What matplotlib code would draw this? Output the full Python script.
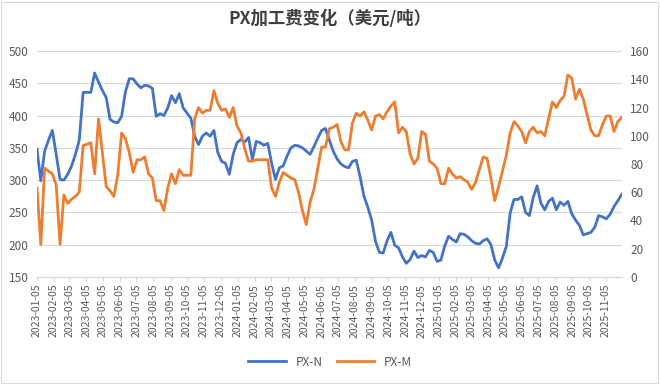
import matplotlib
matplotlib.use("Agg")
import matplotlib.pyplot as plt
import matplotlib.dates as mdates
import pandas as pd
from matplotlib.patches import Rectangle

plt.rcParams['font.family'] = ['Noto Sans CJK SC', 'DejaVu Sans']

# 周度数据，2023-01-05 起
dates = pd.date_range("2023-01-05", periods=153, freq="7D")

px_n = [348, 299, 345, 362, 377, 340, 301, 300, 309, 322,
        340, 362, 436, 436, 436, 466, 452, 439, 428, 394,
        390, 389, 399, 437, 457, 457, 449, 443, 447, 446,
        442, 399, 403, 400, 412, 431, 420, 434, 412, 404,
        396, 368, 355, 368, 373, 368, 377, 343, 329, 326,
        309, 340, 358, 363, 359, 366, 332, 360, 358, 354,
        357, 326, 301, 319, 322, 337, 350, 354, 353, 350,
        345, 340, 352, 365, 377, 380, 362, 345, 333, 325,
        321, 319, 329, 331, 305, 275, 258, 238, 205, 188,
        187, 206, 219, 199, 195, 181, 171, 177, 190, 180,
        183, 181, 191, 188, 174, 176, 198, 213, 208, 204,
        217, 216, 212, 206, 202, 201, 206, 209, 200, 176,
        164, 179, 197, 249, 270, 270, 274, 250, 245, 273,
        291, 264, 254, 267, 272, 254, 266, 261, 267, 248,
        238, 230, 215, 217, 219, 227, 245, 243, 240, 247,
        259, 268, 278]

px_m = [63, 23, 77, 75, 73, 65, 23, 58, 52, 55,
        57, 60, 93, 94, 95, 73, 112, 88, 64, 61,
        57, 72, 102, 98, 88, 74, 83, 83, 85, 73,
        70, 54, 54, 47, 63, 73, 66, 76, 72, 72,
        72, 112, 120, 116, 118, 118, 132, 123, 118, 119,
        113, 120, 107, 102, 91, 82, 82, 83, 83, 83,
        83, 63, 57, 67, 74, 72, 70, 69, 60, 47,
        37, 53, 62, 77, 92, 92, 105, 106, 108, 96,
        90, 90, 109, 116, 114, 117, 111, 104, 114, 115,
        112, 117, 121, 124, 102, 106, 103, 87, 80, 84,
        103, 101, 82, 80, 77, 66, 66, 77, 73, 70,
        71, 69, 67, 62, 67, 76, 85, 84, 70, 54,
        64, 75, 86, 102, 110, 107, 103, 95, 103, 106,
        102, 103, 100, 112, 124, 120, 125, 128, 143, 141,
        126, 133, 126, 115, 104, 100, 100, 108, 114, 114,
        103, 110, 113]

left_ticks = [150, 200, 250, 300, 350, 400, 450, 500]
right_ticks = [0, 20, 40, 60, 80, 100, 120, 140, 160]

blue = '#4472C4'
orange = '#ED7D31'
grey = '#595959'

fig = plt.figure(figsize=(6.6, 3.84), dpi=100)
ax = fig.add_axes([0.056, 0.279, 0.886, 0.588])
ax2 = ax.twinx()

ax.plot(dates, px_n, color=blue, lw=2.0, label='PX-N', solid_joinstyle='round')
ax2.plot(dates, px_m, color=orange, lw=2.0, label='PX-M', solid_joinstyle='round')

ax.set_yticks(left_ticks)
ax.set_ylim(150, 500)
ax2.set_yticks(right_ticks)
ax2.set_yticklabels([str(t) for t in right_ticks])
ax2.set_ylim(0, 160.001)
ax.set_xlim(dates[0], dates[-1])

ax.grid(axis='y', color='#D9D9D9', lw=0.8)
ax.set_axisbelow(True)

# 月度刻度：每月 5 日
ticks = pd.date_range("2023-01-01", "2025-11-01", freq="MS") + pd.Timedelta(days=4)
ax.set_xticks(ticks)
ax.xaxis.set_major_formatter(mdates.DateFormatter('%Y-%m-%d'))
ax.tick_params(axis='x', labelrotation=90, labelsize=7.5, colors=grey,
               length=3, color='#D9D9D9', pad=2)
ax.tick_params(axis='y', labelsize=8.5, colors=grey, length=0, pad=6)
ax2.tick_params(axis='y', labelsize=8.5, colors=grey, length=0, pad=6)

for a in (ax, ax2):
    for s in ('top', 'left', 'right'):
        a.spines[s].set_visible(False)
    a.spines['bottom'].set_color('#D9D9D9')

fig.suptitle('PX加工费变化（美元/吨）', x=0.5, y=0.975, fontsize=12.5,
             fontweight='bold', color='#404040')

h1, l1 = ax.get_legend_handles_labels()
h2, l2 = ax2.get_legend_handles_labels()
fig.legend(h1 + h2, l1 + l2, loc='center', bbox_to_anchor=(0.5, 0.057), ncol=2,
           frameon=False, fontsize=8.5, handlelength=3.2, columnspacing=1.2,
           labelcolor=grey)

fig.patches.append(Rectangle((0.002, 0.003), 0.995, 0.993, transform=fig.transFigure,
                             fill=False, edgecolor='#D9D9D9', lw=0.8))

fig.savefig('out.png', dpi=100)
